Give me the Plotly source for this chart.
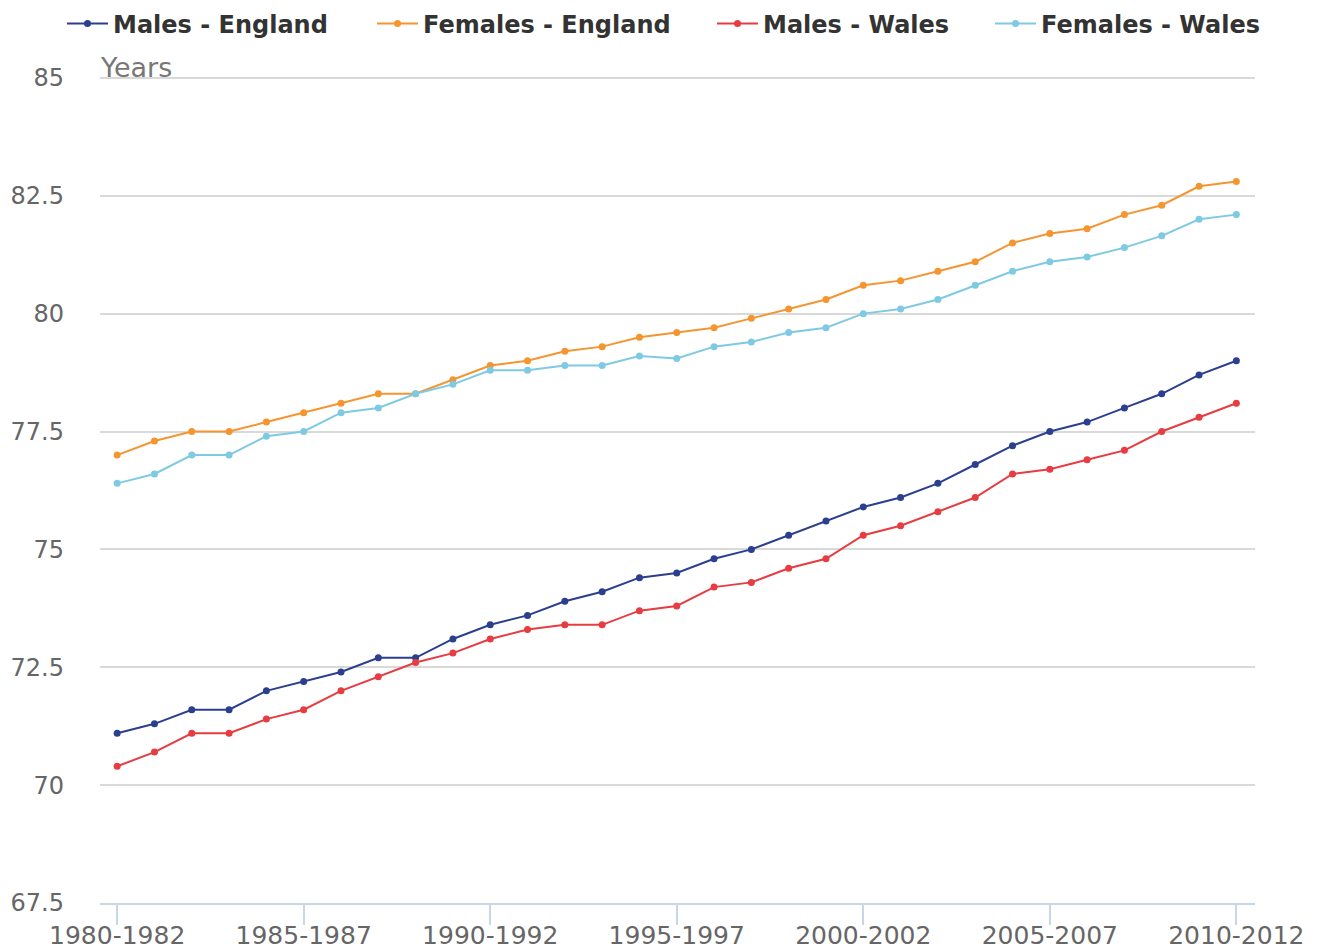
import plotly.graph_objects as go

periods = [f"{y}-{y+2}" for y in range(1980, 2011)]

males_england = [71.1, 71.3, 71.6, 71.6, 72.0, 72.2, 72.4, 72.7, 72.7, 73.1, 73.4, 73.6, 73.9, 74.1, 74.4, 74.5,
                 74.8, 75.0, 75.3, 75.6, 75.9, 76.1, 76.4, 76.8, 77.2, 77.5, 77.7, 78.0, 78.3, 78.7, 79.0]
females_england = [77.0, 77.3, 77.5, 77.5, 77.7, 77.9, 78.1, 78.3, 78.3, 78.6, 78.9, 79.0, 79.2, 79.3, 79.5, 79.6,
                   79.7, 79.9, 80.1, 80.3, 80.6, 80.7, 80.9, 81.1, 81.5, 81.7, 81.8, 82.1, 82.3, 82.7, 82.8]
males_wales = [70.4, 70.7, 71.1, 71.1, 71.4, 71.6, 72.0, 72.3, 72.6, 72.8, 73.1, 73.3, 73.4, 73.4, 73.7, 73.8,
               74.2, 74.3, 74.6, 74.8, 75.3, 75.5, 75.8, 76.1, 76.6, 76.7, 76.9, 77.1, 77.5, 77.8, 78.1]
females_wales = [76.4, 76.6, 77.0, 77.0, 77.4, 77.5, 77.9, 78.0, 78.3, 78.5, 78.8, 78.8, 78.9, 78.9, 79.1, 79.05,
                 79.3, 79.4, 79.6, 79.7, 80.0, 80.1, 80.3, 80.6, 80.9, 81.1, 81.2, 81.4, 81.65, 82.0, 82.1]

series = [
    ("Males - England", males_england, "#2b3f8e"),
    ("Females - England", females_england, "#f5952f"),
    ("Males - Wales", males_wales, "#e63c42"),
    ("Females - Wales", females_wales, "#7ecae3"),
]

y_ticks = [67.5, 70, 72.5, 75, 77.5, 80, 82.5, 85]
y_ticktext = ["67.5", "70", "72.5", "75", "77.5", "80", "82.5", "85"]
x_tickvals = periods[::5]

# page body adds an 8px offset, so the figure is slightly smaller than the window
W, H = 1311, 940
legend_left_px = [54, 364, 704, 982]
legend_names = ["legend", "legend2", "legend3", "legend4"]

fig = go.Figure()
for (name, vals, color), lg in zip(series, legend_names):
    fig.add_trace(go.Scatter(
        x=periods, y=vals, name=name, mode="lines+markers",
        line=dict(color=color, width=2),
        marker=dict(color=color, size=7),
        legend=lg,
    ))

legend_font = dict(family="DejaVu Sans", size=24, color="#333333", weight="bold")
layout_legends = {}
for lg, px in zip(legend_names, legend_left_px):
    layout_legends[lg] = dict(orientation="h", x=px / W, xanchor="left", xref="container",
                              y=1 - 16 / H, yanchor="middle", yref="container",
                              font=legend_font, bgcolor="rgba(0,0,0,0)", itemwidth=41)

fig.update_layout(
    width=W, height=H,
    margin=dict(l=92, r=64, t=68, b=45, autoexpand=False),
    paper_bgcolor="white", plot_bgcolor="white",
    font=dict(family="DejaVu Sans", color="#666666"),
    showlegend=True,
    xaxis=dict(type="category", range=[-0.46, 30.5], tickvals=x_tickvals, ticktext=x_tickvals,
               showgrid=False, showline=True, linecolor="#c9d6e6", linewidth=2,
               ticks="outside", ticklen=20, tickcolor="#c9d6e6", tickwidth=2,
               ticklabelstandoff=-11,
               tickfont=dict(size=25, color="#666666"), zeroline=False),
    yaxis=dict(range=[67.5, 85.04], tickvals=y_ticks, ticktext=y_ticktext,
               showgrid=True, gridcolor="#d9d9d9", gridwidth=2, zeroline=False,
               showline=False, ticks="", ticklabelstandoff=35,
               tickfont=dict(size=24, color="#666666")),
    annotations=[dict(text="Years", xref="paper", yref="paper", x=0, y=1, xanchor="left", yanchor="bottom",
                      showarrow=False, font=dict(size=27, color="#777777"), xshift=-2, yshift=-9)],
    **layout_legends,
)

fig.write_html("out.html")
